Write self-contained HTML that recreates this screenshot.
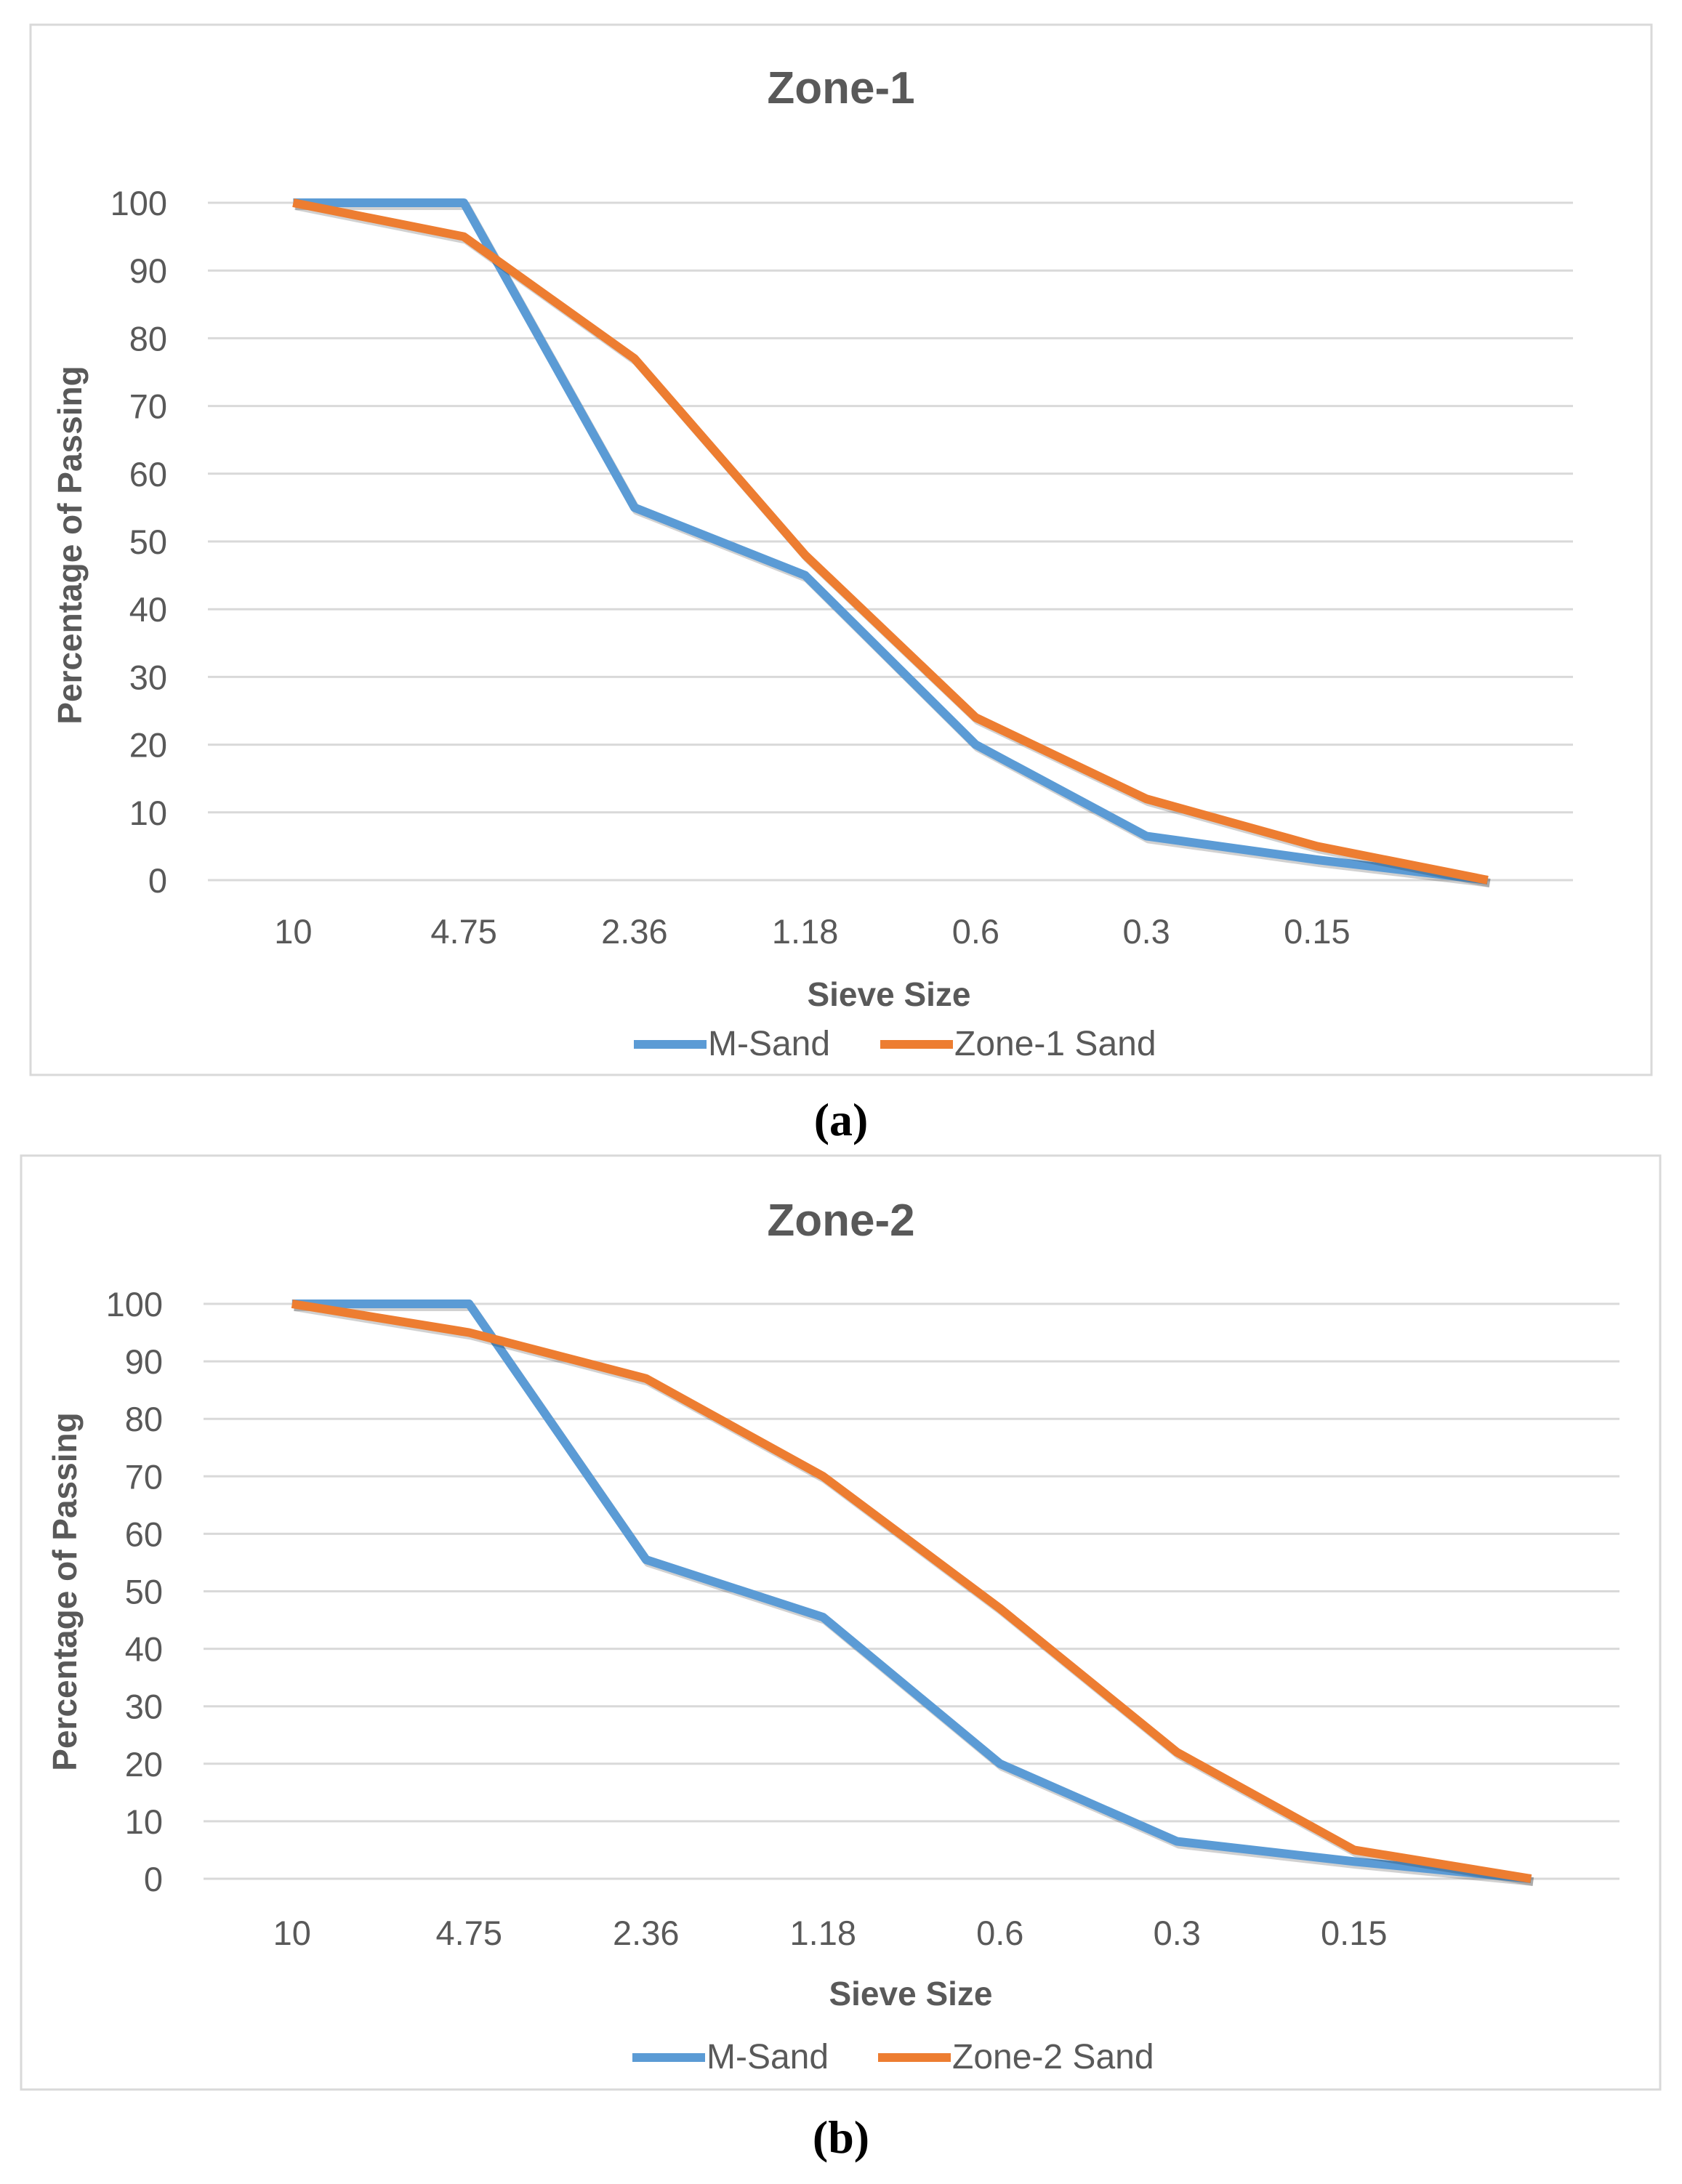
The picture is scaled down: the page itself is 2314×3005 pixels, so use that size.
<!DOCTYPE html>
<html><head><meta charset="utf-8"><style>
body{margin:0;background:#fff;}
svg text{font-family:"Liberation Sans",sans-serif;}
</style></head><body>
<svg id="root" width="2314" height="3000" viewBox="0 0 2314 3000" xmlns="http://www.w3.org/2000/svg">
<rect x="0" y="0" width="2314" height="3000" fill="#fff"/>
</svg>
<script>
const categories = ["10","4.75","2.36","1.18","0.6","0.3","0.15",""];
const yTicks = [0,10,20,30,40,50,60,70,80,90,100];
const mSandA = [100,100,55,45,20,6.5,3,0];
const zone1Sand = [100,95,77,48,24,12,5,0];
const mSandB = [100,100,55.5,45.5,20,6.5,3,0];
const zone2Sand = [100,95,87,70,47,22,5,0];

const NS = "http://www.w3.org/2000/svg";
const root = document.getElementById('root');
function mk(tag, attrs, parent, text){
  const e = document.createElementNS(NS, tag);
  for (const k in attrs) e.setAttribute(k, attrs[k]);
  if (text !== undefined) e.textContent = text;
  parent.appendChild(e);
  return e;
}

function drawChart(cfg){
  const g = mk('g', {}, root);
  
  
  const box = mk('rect', {x:cfg.bx, y:cfg.by, width:cfg.bw, height:cfg.bh, fill:'#fff', stroke:'#d9d9d9', 'stroke-width':3}, g);
  
  
  const t = mk('text', {x:cfg.titleX, y:cfg.titleY, 'text-anchor':'middle', 'font-size':62, 'font-weight':'bold', fill:'#595959'}, g, cfg.title);
  
  
  const n = categories.length;
  const step = (cfg.px1 - cfg.px0) / n;
  const xs = i => cfg.px0 + step * (i + 0.5);
  const ys = v => cfg.py0 + (cfg.py100 - cfg.py0) * v / 100;
  yTicks.forEach(v => {
    const l = mk('line', {x1:cfg.px0, x2:cfg.px1, y1:ys(v), y2:ys(v), stroke:'#d9d9d9', 'stroke-width':3}, g);
    
    
    const tl = mk('text', {x:cfg.px0 - 56, y:ys(v) + 17, 'text-anchor':'end', 'font-size':47, fill:'#595959'}, g, String(v));
    
    
  });
  categories.forEach((c, i) => {
    if (!c) return;
    const tl = mk('text', {x:xs(i), y:cfg.xlabY, 'text-anchor':'middle', 'font-size':47, fill:'#595959'}, g, c);
    
    
  });
  const xt = mk('text', {x:cfg.xtX, y:cfg.xtY, 'text-anchor':'middle', 'font-size':46, 'font-weight':'bold', fill:'#595959'}, g, 'Sieve Size');
  
  
  const yt = mk('text', {x:0, y:0, 'text-anchor':'middle', 'font-size':46, 'font-weight':'bold', fill:'#595959', transform:'translate(' + cfg.ytX + ',' + cfg.ytY + ') rotate(-90)'}, g, 'Percentage of Passing');
  
  
  cfg.series.forEach(s => {
    const pts = s.values.map((v, i) => xs(i).toFixed(1) + ',' + ys(v).toFixed(1)).join(' ');
    const sh = mk('polyline', {points:pts, fill:'none', stroke:'rgba(0,0,0,0.18)', 'stroke-width':12, 'stroke-linejoin':'round', transform:'translate(3,4)'}, g);
    
    
    const p = mk('polyline', {points:pts, fill:'none', stroke:s.color, 'stroke-width':12, 'stroke-linejoin':'round'}, g);
    
    
  });
  cfg.series.forEach((s, k) => {
    const lx = cfg.legX[k];
    const ll = mk('line', {x1:lx, x2:lx + 100, y1:cfg.legY - 15, y2:cfg.legY - 15, stroke:s.color, 'stroke-width':12}, g);
    
    
    const lt = mk('text', {x:lx + 102, y:cfg.legY, 'font-size':48, fill:'#595959'}, g, s.label);
    
    
  });
  const cap = mk('text', {x:cfg.capX, y:cfg.capY, 'text-anchor':'middle', 'font-size':64, 'font-weight':'bold', fill:'#000', style:'font-family:"Liberation Serif",serif'}, g, cfg.caption);
  
  
}

drawChart({name:'chart-zone-1', bx:42, by:34, bw:2230, bh:1445, title:'Zone-1', titleX:1157, titleY:142,
  px0:286, px1:2164, py0:1211, py100:279, xlabY:1298, xtX:1223, xtY:1384, ytX:112, ytY:750,
  legX:[872,1211], legY:1452, capX:1157, capY:1562, caption:'(a)',
  series:[{name:'m-sand', label:'M-Sand', color:'#5B9BD5', values:mSandA},
          {name:'zone-1-sand', label:'Zone-1 Sand', color:'#ED7D31', values:zone1Sand}]});

drawChart({name:'chart-zone-2', bx:29, by:1590, bw:2255, bh:1285, title:'Zone-2', titleX:1157, titleY:1700,
  px0:280, px1:2228, py0:2585, py100:1794, xlabY:2676, xtX:1253, xtY:2759, ytX:105, ytY:2190,
  legX:[870,1208], legY:2846, capX:1157, capY:2962, caption:'(b)',
  series:[{name:'m-sand', label:'M-Sand', color:'#5B9BD5', values:mSandB},
          {name:'zone-2-sand', label:'Zone-2 Sand', color:'#ED7D31', values:zone2Sand}]});
</script>
</body></html>
